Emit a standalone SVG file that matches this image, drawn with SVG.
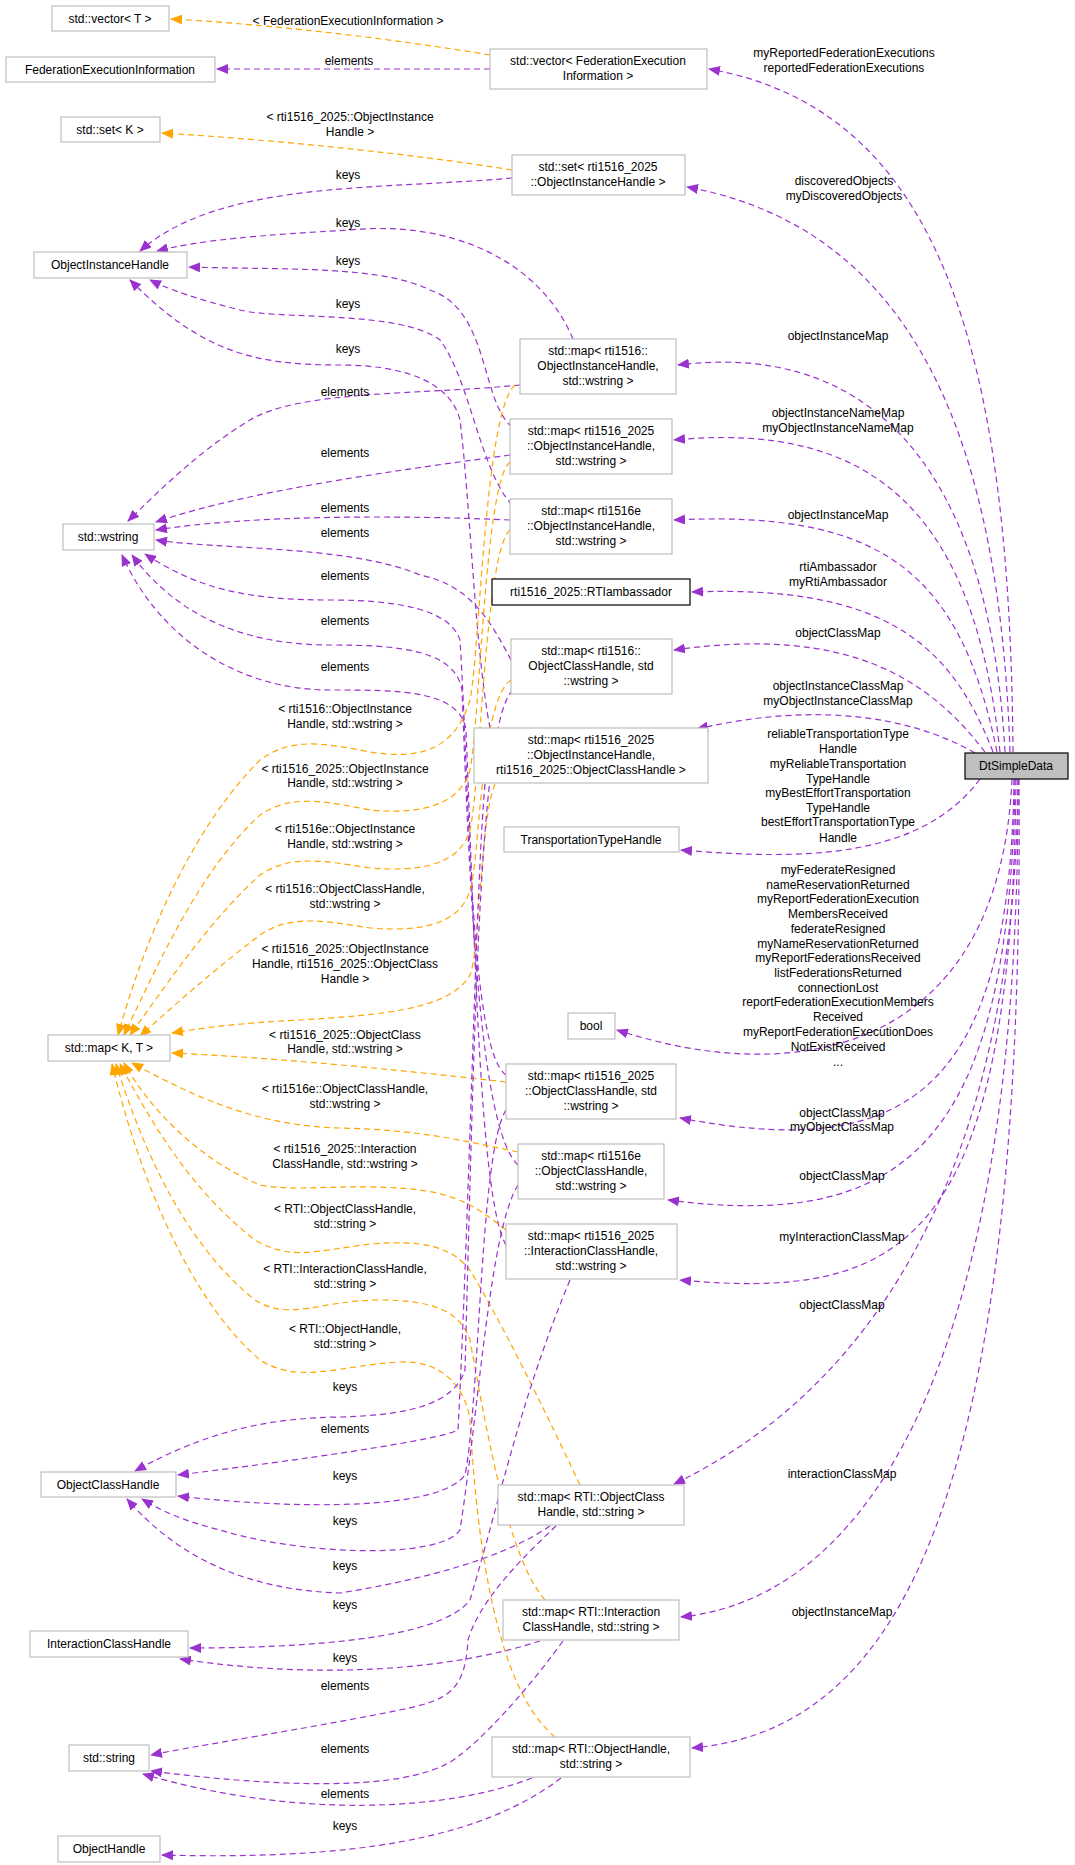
<svg xmlns="http://www.w3.org/2000/svg" width="1075" height="1865" viewBox="0 0 1075 1865">
<style>
text{font-family:"Liberation Sans",Arial,sans-serif;font-size:12px;fill:#000;text-anchor:middle}
.n rect{fill:#fff;stroke:#bfbfbf;stroke-width:1.2}
.nb rect{fill:#fff;stroke:#000;stroke-width:1.2}
.p{fill:none;stroke:#9a32cd;stroke-width:1.2;stroke-dasharray:6,4;marker-end:url(#ap)}
.o{fill:none;stroke:#ffa500;stroke-width:1.2;stroke-dasharray:6,4;marker-end:url(#ao)}
</style>
<defs>
<marker id="ap" markerWidth="12" markerHeight="10" refX="11" refY="5" orient="auto" markerUnits="userSpaceOnUse"><path d="M0,0 L12,5 L0,10 Z" fill="#9a32cd"/></marker>
<marker id="ao" markerWidth="12" markerHeight="10" refX="11" refY="5" orient="auto" markerUnits="userSpaceOnUse"><path d="M0,0 L12,5 L0,10 Z" fill="#ffa500"/></marker>
</defs>
<rect width="1075" height="1865" fill="#fff"/>
<g id="connectors">
<path class="o" d="M490,55 C400,40 280,25 171,19"/>
<path class="p" d="M490,69 L217,69"/>
<path class="o" d="M512,170 C420,155 280,140 162,133"/>
<path class="p" d="M512,178 C380,190 220,180 140,251"/>
<path class="p" d="M573,339 C540,260 450,220 350,230 C260,235 200,240 157,251"/>
<path class="p" d="M512,427 C480,400 490,310 430,290 C380,265 280,270 189,267"/>
<path class="p" d="M512,505 C480,470 470,380 440,340 C400,310 280,320 240,310 C200,300 170,290 150,280"/>
<path class="p" d="M490,728 C475,650 470,500 460,420 C450,380 400,365 340,365 C250,365 200,350 130,280"/>
<path class="p" d="M520,385 C420,395 300,390 250,420 C200,450 160,490 128,521"/>
<path class="p" d="M510,455 C400,470 250,490 156,522"/>
<path class="p" d="M510,520 C400,515 250,515 156,530"/>
<path class="p" d="M511,660 C490,620 470,585 420,575 C350,545 220,550 156,540"/>
<path class="p" d="M506,1075 C470,1050 470,800 460,640 C450,610 400,600 330,600 C250,600 200,590 145,554"/>
<path class="p" d="M518,1165 C480,1130 470,900 462,690 C455,650 400,645 330,645 C250,645 180,620 132,555"/>
<path class="p" d="M506,1245 C480,1200 475,950 466,730 C460,690 400,690 330,690 C240,690 160,640 122,555"/>
<path class="o" d="M515,385 C485,410 480,650 470,700 C455,750 420,760 370,752 C320,742 290,738 260,760 C200,820 150,920 118,1035"/>
<path class="o" d="M510,462 C485,480 480,720 470,770 C460,805 420,815 370,810 C320,800 290,795 260,815 C200,870 160,960 124,1035"/>
<path class="o" d="M510,530 C485,550 480,790 470,830 C460,865 420,872 370,868 C320,860 290,855 260,875 C210,920 170,980 130,1035"/>
<path class="o" d="M511,680 C480,700 480,860 470,890 C460,925 420,932 370,928 C320,920 290,915 260,935 C220,965 180,1000 140,1036"/>
<path class="o" d="M495,784 C480,820 480,950 470,975 C450,1010 380,1015 300,1020 C240,1023 200,1028 172,1033"/>
<path class="o" d="M506,1082 C400,1070 280,1058 172,1053"/>
<path class="o" d="M518,1152 C460,1140 420,1130 340,1128 C260,1126 200,1100 132,1063"/>
<path class="o" d="M506,1230 C480,1210 460,1192 400,1188 C330,1184 300,1192 260,1185 C200,1160 150,1110 124,1063"/>
<path class="o" d="M580,1485 C540,1400 500,1320 470,1270 C450,1245 420,1240 370,1244 C310,1252 290,1260 255,1240 C190,1190 150,1120 120,1064"/>
<path class="o" d="M545,1600 C510,1560 490,1450 470,1340 C460,1310 430,1300 380,1300 C320,1300 290,1322 255,1300 C180,1240 140,1140 116,1064"/>
<path class="o" d="M555,1737 C510,1700 480,1600 470,1420 C465,1385 440,1360 400,1362 C340,1365 300,1385 260,1360 C190,1300 140,1180 112,1064"/>
<path class="p" d="M513,690 C480,720 475,1000 465,1370 C455,1400 420,1415 340,1417 C260,1418 200,1435 135,1471"/>
<path class="p" d="M485,784 C475,900 470,1200 458,1430 C440,1440 300,1460 178,1475"/>
<path class="p" d="M506,1110 C480,1150 480,1400 465,1475 C440,1510 300,1510 178,1496"/>
<path class="p" d="M518,1185 C490,1230 480,1400 460,1530 C440,1560 300,1555 220,1530 C180,1520 160,1510 142,1499"/>
<path class="p" d="M550,1526 C500,1560 420,1580 340,1593 C250,1590 180,1560 127,1499"/>
<path class="p" d="M570,1280 C520,1400 500,1500 470,1600 C440,1640 300,1648 190,1648"/>
<path class="p" d="M540,1641 C450,1670 320,1680 180,1659"/>
<path class="p" d="M556,1526 C520,1560 480,1600 468,1640 C465,1690 450,1700 400,1710 C300,1730 200,1745 151,1755"/>
<path class="p" d="M563,1641 C520,1700 480,1740 460,1755 C420,1790 300,1790 151,1771"/>
<path class="p" d="M532,1778 C450,1810 300,1820 143,1774"/>
<path class="p" d="M561,1778 C480,1840 350,1860 162,1855"/>
<path class="p" d="M1013,752 C1010,350 940,110 709,69"/>
<path class="p" d="M1010,752 C1000,450 920,230 687,187"/>
<path class="p" d="M1005,752 C990,480 880,340 678,365"/>
<path class="p" d="M1000,752 C975,520 880,420 674,440"/>
<path class="p" d="M997,752 C960,570 880,510 674,520"/>
<path class="p" d="M993,752 C950,640 880,585 692,592"/>
<path class="p" d="M985,752 C930,680 850,625 674,650"/>
<path class="p" d="M975,753 C900,710 800,705 697,729"/>
<path class="p" d="M980,779 C920,860 800,860 681,850"/>
<path class="p" d="M1012,779 C1000,1050 800,1090 617,1030"/>
<path class="p" d="M1014,779 C1010,1100 900,1160 680,1118"/>
<path class="p" d="M1015,779 C1010,1150 900,1230 668,1200"/>
<path class="p" d="M1016,779 C1012,1250 900,1300 680,1280"/>
<path class="p" d="M1018,779 C1015,1200 850,1400 674,1484"/>
<path class="p" d="M1018,779 C1020,1400 850,1600 681,1617"/>
<path class="p" d="M1019,779 C1025,1500 900,1730 692,1748"/>
</g>
<g id="labels">
<text x="348" y="25">&lt; FederationExecutionInformation &gt;</text>
<text x="349" y="65">elements</text>
<text x="350" y="121">&lt; rti1516_2025::ObjectInstance</text>
<text x="350" y="136">Handle &gt;</text>
<text x="348" y="179">keys</text>
<text x="348" y="227">keys</text>
<text x="348" y="265">keys</text>
<text x="348" y="308">keys</text>
<text x="348" y="353">keys</text>
<text x="345" y="396">elements</text>
<text x="345" y="457">elements</text>
<text x="345" y="512">elements</text>
<text x="345" y="537">elements</text>
<text x="345" y="580">elements</text>
<text x="345" y="625">elements</text>
<text x="345" y="671">elements</text>
<text x="345" y="713">&lt; rti1516::ObjectInstance</text>
<text x="345" y="728">Handle, std::wstring &gt;</text>
<text x="345" y="773">&lt; rti1516_2025::ObjectInstance</text>
<text x="345" y="787">Handle, std::wstring &gt;</text>
<text x="345" y="833">&lt; rti1516e::ObjectInstance</text>
<text x="345" y="848">Handle, std::wstring &gt;</text>
<text x="345" y="893">&lt; rti1516::ObjectClassHandle,</text>
<text x="345" y="908">std::wstring &gt;</text>
<text x="345" y="953">&lt; rti1516_2025::ObjectInstance</text>
<text x="345" y="968">Handle, rti1516_2025::ObjectClass</text>
<text x="345" y="983">Handle &gt;</text>
<text x="345" y="1039">&lt; rti1516_2025::ObjectClass</text>
<text x="345" y="1053">Handle, std::wstring &gt;</text>
<text x="345" y="1093">&lt; rti1516e::ObjectClassHandle,</text>
<text x="345" y="1108">std::wstring &gt;</text>
<text x="345" y="1153">&lt; rti1516_2025::Interaction</text>
<text x="345" y="1168">ClassHandle, std::wstring &gt;</text>
<text x="345" y="1213">&lt; RTI::ObjectClassHandle,</text>
<text x="345" y="1228">std::string &gt;</text>
<text x="345" y="1273">&lt; RTI::InteractionClassHandle,</text>
<text x="345" y="1288">std::string &gt;</text>
<text x="345" y="1333">&lt; RTI::ObjectHandle,</text>
<text x="345" y="1348">std::string &gt;</text>
<text x="345" y="1391">keys</text>
<text x="345" y="1433">elements</text>
<text x="345" y="1480">keys</text>
<text x="345" y="1525">keys</text>
<text x="345" y="1570">keys</text>
<text x="345" y="1609">keys</text>
<text x="345" y="1662">keys</text>
<text x="345" y="1690">elements</text>
<text x="345" y="1753">elements</text>
<text x="345" y="1798">elements</text>
<text x="345" y="1830">keys</text>
<text x="844" y="57">myReportedFederationExecutions</text>
<text x="844" y="72">reportedFederationExecutions</text>
<text x="844" y="185">discoveredObjects</text>
<text x="844" y="200">myDiscoveredObjects</text>
<text x="838" y="340">objectInstanceMap</text>
<text x="838" y="417">objectInstanceNameMap</text>
<text x="838" y="432">myObjectInstanceNameMap</text>
<text x="838" y="519">objectInstanceMap</text>
<text x="838" y="571">rtiAmbassador</text>
<text x="838" y="586">myRtiAmbassador</text>
<text x="838" y="637">objectClassMap</text>
<text x="838" y="690">objectInstanceClassMap</text>
<text x="838" y="705">myObjectInstanceClassMap</text>
<text x="838" y="738">reliableTransportationType</text>
<text x="838" y="753">Handle</text>
<text x="838" y="768">myReliableTransportation</text>
<text x="838" y="783">TypeHandle</text>
<text x="838" y="797">myBestEffortTransportation</text>
<text x="838" y="812">TypeHandle</text>
<text x="838" y="826">bestEffortTransportationType</text>
<text x="838" y="842">Handle</text>
<text x="838" y="874">myFederateResigned</text>
<text x="838" y="889">nameReservationReturned</text>
<text x="838" y="903">myReportFederationExecution</text>
<text x="838" y="918">MembersReceived</text>
<text x="838" y="933">federateResigned</text>
<text x="838" y="948">myNameReservationReturned</text>
<text x="838" y="962">myReportFederationsReceived</text>
<text x="838" y="977">listFederationsReturned</text>
<text x="838" y="992">connectionLost</text>
<text x="838" y="1006">reportFederationExecutionMembers</text>
<text x="838" y="1021">Received</text>
<text x="838" y="1036">myReportFederationExecutionDoes</text>
<text x="838" y="1051">NotExistReceived</text>
<text x="838" y="1066">...</text>
<text x="842" y="1117">objectClassMap</text>
<text x="842" y="1131">myObjectClassMap</text>
<text x="842" y="1180">objectClassMap</text>
<text x="842" y="1241">myInteractionClassMap</text>
<text x="842" y="1309">objectClassMap</text>
<text x="842" y="1478">interactionClassMap</text>
<text x="842" y="1616">objectInstanceMap</text>
</g>
<g id="n1" class="n"><rect x="52" y="6" width="117" height="25"/><text x="110" y="23">std::vector&lt; T &gt;</text></g>
<g id="n2" class="n"><rect x="6" y="57" width="209" height="25"/><text x="110" y="74">FederationExecutionInformation</text></g>
<g id="n3" class="n"><rect x="490" y="49" width="217" height="40"/><text x="598" y="65">std::vector&lt; FederationExecution</text><text x="598" y="80">Information &gt;</text></g>
<g id="n4" class="n"><rect x="61" y="117" width="99" height="25"/><text x="110" y="134">std::set&lt; K &gt;</text></g>
<g id="n5" class="n"><rect x="512" y="155" width="173" height="40"/><text x="598" y="171">std::set&lt; rti1516_2025</text><text x="598" y="186">::ObjectInstanceHandle &gt;</text></g>
<g id="n6" class="n"><rect x="34" y="252" width="153" height="26"/><text x="110" y="269">ObjectInstanceHandle</text></g>
<g id="n7" class="n"><rect x="520" y="339" width="156" height="55"/><text x="598" y="355">std::map&lt; rti1516::</text><text x="598" y="370">ObjectInstanceHandle,</text><text x="598" y="385">std::wstring &gt;</text></g>
<g id="n8" class="n"><rect x="63" y="524" width="91" height="26"/><text x="108" y="541">std::wstring</text></g>
<g id="n9" class="n"><rect x="510" y="419" width="162" height="55"/><text x="591" y="435">std::map&lt; rti1516_2025</text><text x="591" y="450">::ObjectInstanceHandle,</text><text x="591" y="465">std::wstring &gt;</text></g>
<g id="n10" class="n"><rect x="510" y="499" width="162" height="55"/><text x="591" y="515">std::map&lt; rti1516e</text><text x="591" y="530">::ObjectInstanceHandle,</text><text x="591" y="545">std::wstring &gt;</text></g>
<g id="n11" class="nb"><rect x="492" y="579" width="198" height="26"/><text x="591" y="596">rti1516_2025::RTIambassador</text></g>
<g id="n12" class="n"><rect x="511" y="639" width="161" height="55"/><text x="591" y="655">std::map&lt; rti1516::</text><text x="591" y="670">ObjectClassHandle, std</text><text x="591" y="685">::wstring &gt;</text></g>
<g id="n13" class="n"><rect x="474" y="728" width="234" height="55"/><text x="591" y="744">std::map&lt; rti1516_2025</text><text x="591" y="759">::ObjectInstanceHandle,</text><text x="591" y="774">rti1516_2025::ObjectClassHandle &gt;</text></g>
<g id="n14" class="n"><rect x="504" y="827" width="175" height="25"/><text x="591" y="844">TransportationTypeHandle</text></g>
<g id="n15" class="n"><rect x="568" y="1013" width="47" height="26"/><text x="591" y="1030">bool</text></g>
<g id="n16" class="n"><rect x="48" y="1035" width="122" height="26"/><text x="109" y="1052">std::map&lt; K, T &gt;</text></g>
<g id="n17" class="n"><rect x="506" y="1064" width="170" height="55"/><text x="591" y="1080">std::map&lt; rti1516_2025</text><text x="591" y="1095">::ObjectClassHandle, std</text><text x="591" y="1110">::wstring &gt;</text></g>
<g id="n18" class="n"><rect x="518" y="1144" width="146" height="55"/><text x="591" y="1160">std::map&lt; rti1516e</text><text x="591" y="1175">::ObjectClassHandle,</text><text x="591" y="1190">std::wstring &gt;</text></g>
<g id="n19" class="n"><rect x="506" y="1224" width="171" height="55"/><text x="591" y="1240">std::map&lt; rti1516_2025</text><text x="591" y="1255">::InteractionClassHandle,</text><text x="591" y="1270">std::wstring &gt;</text></g>
<g id="n20" class="n"><rect x="41" y="1472" width="135" height="25"/><text x="108" y="1489">ObjectClassHandle</text></g>
<g id="n21" class="n"><rect x="498" y="1485" width="186" height="40"/><text x="591" y="1501">std::map&lt; RTI::ObjectClass</text><text x="591" y="1516">Handle, std::string &gt;</text></g>
<g id="n22" class="n"><rect x="30" y="1631" width="158" height="26"/><text x="109" y="1648">InteractionClassHandle</text></g>
<g id="n23" class="n"><rect x="503" y="1600" width="176" height="40"/><text x="591" y="1616">std::map&lt; RTI::Interaction</text><text x="591" y="1631">ClassHandle, std::string &gt;</text></g>
<g id="n24" class="n"><rect x="69" y="1745" width="80" height="26"/><text x="109" y="1762">std::string</text></g>
<g id="n25" class="n"><rect x="492" y="1737" width="198" height="40"/><text x="591" y="1753">std::map&lt; RTI::ObjectHandle,</text><text x="591" y="1768">std::string &gt;</text></g>
<g id="n26" class="n"><rect x="58" y="1836" width="102" height="26"/><text x="109" y="1853">ObjectHandle</text></g>
<g id="n27"><rect x="965" y="753" width="103" height="26" fill="#bfbfbf" stroke="#000" stroke-width="1.2"/><text x="1016" y="770">DtSimpleData</text></g>
</svg>
